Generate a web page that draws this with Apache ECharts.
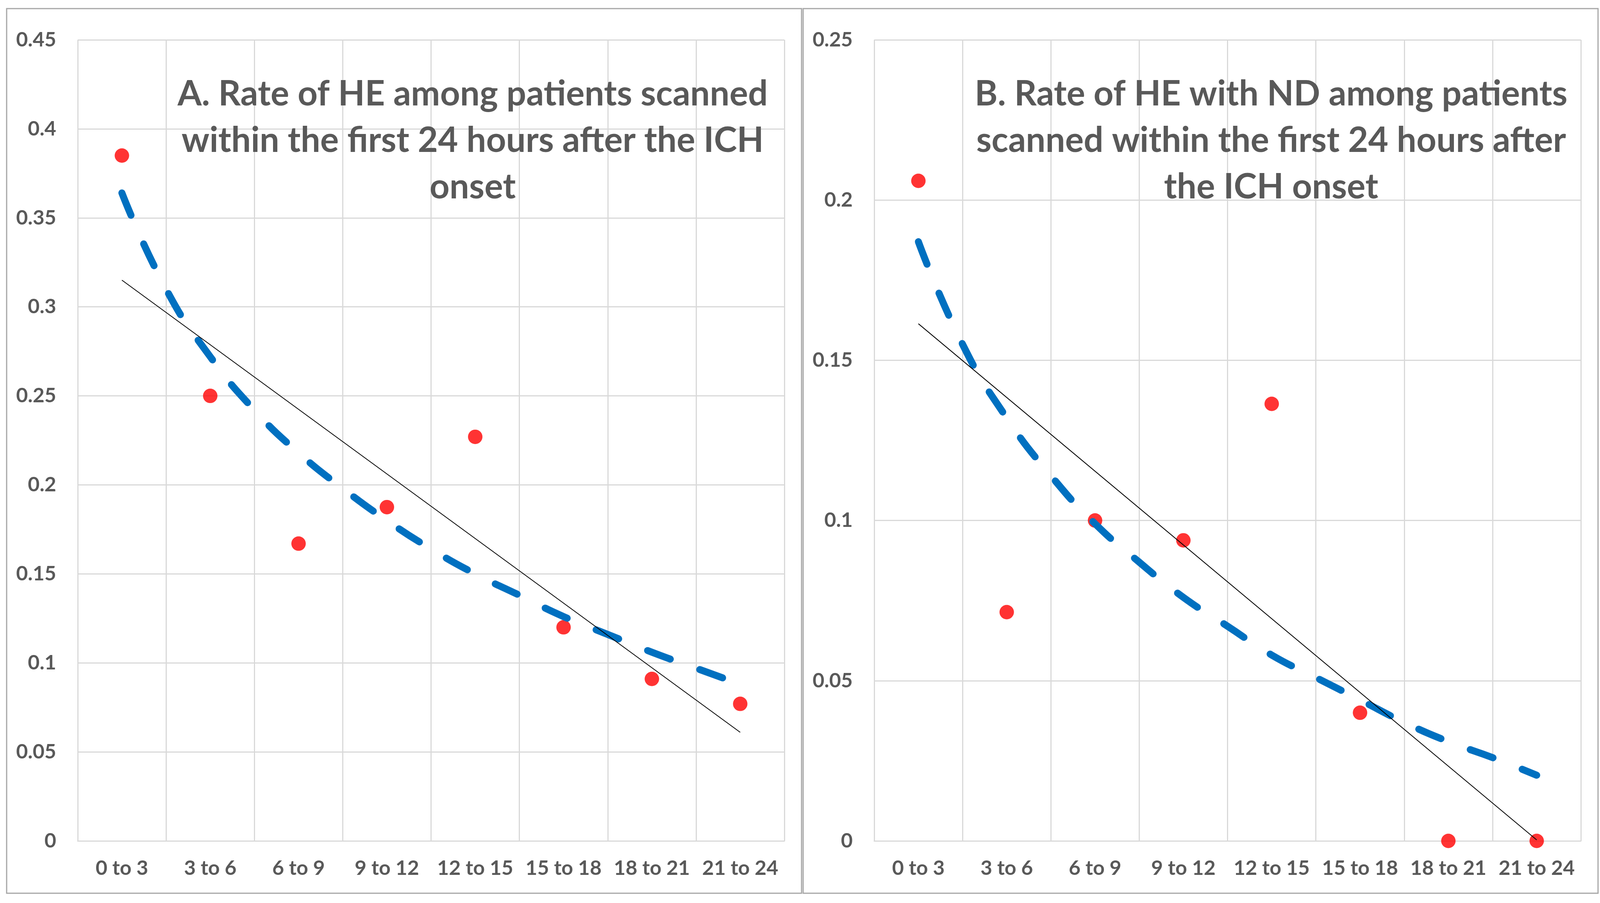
<!DOCTYPE html>
<html>
<head>
<meta charset="utf-8">
<script src="https://cdn.jsdelivr.net/npm/echarts@6/dist/echarts.min.js"></script>
<style>
html,body{margin:0;padding:0;background:#fff;}
#chart{width:4102px;height:2312px;}
</style>
</head>
<body>
<div id="chart"></div>
<script>
// ---- data ----
const categories = ['0 to 3', '3 to 6', '6 to 9', '9 to 12', '12 to 15', '15 to 18', '18 to 21', '21 to 24'];
const rateA = [0.385, 0.25, 0.167, 0.1875, 0.227, 0.12, 0.091, 0.077];
const rateB = [0.206, 0.0714, 0.1, 0.0938, 0.1364, 0.04, 0, 0];

// dashed blue (logarithmic) trend curve, read at category centres and boundaries
const trendX = [1, 1.5, 2, 2.5, 3, 3.5, 4, 4.5, 5, 5.5, 6, 6.5, 7, 7.5, 8];
const curveA = [0.364, 0.310, 0.272, 0.242, 0.218, 0.198, 0.180, 0.164, 0.150, 0.138, 0.126, 0.116, 0.106, 0.097, 0.088];
const curveB = [0.187, 0.155, 0.132, 0.114, 0.099, 0.087, 0.076, 0.067, 0.058, 0.051, 0.044, 0.037, 0.031, 0.026, 0.0205];

// thin black straight trend line, endpoints
const lineX = [1, 8];
const lineA = [0.315, 0.061];
const lineB = [0.1614, 0.0003];

const titleA = 'A. Rate of HE among patients scanned\nwithin the first 24 hours after the ICH\nonset';
const titleB = 'B. Rate of HE with ND among patients\nscanned within the first 24 hours after\nthe ICH onset';

const yTicksA = {min: 0, max: 0.45, interval: 0.05};
const yTicksB = {min: 0, max: 0.25, interval: 0.05};

// ---- styling ----
const FONT = 'Lato';
const TXT = '#595959';
const GRID = '#D9D9D9';

function pairs(xs, ys) { return xs.map((x, i) => [x, ys[i]]); }

const grids = [
  {left: 199, top: 102, width: 1809, height: 2051},
  {left: 2238, top: 102, width: 1809, height: 2051}
];

function catAxis(gi) {
  return {
    type: 'category', gridIndex: gi, data: categories, boundaryGap: true,
    axisLine: {show: true, lineStyle: {color: GRID, width: 3}},
    axisTick: {show: false},
    axisLabel: {color: TXT, fontFamily: FONT, fontWeight: 'bold', fontSize: 52, margin: 44, interval: 0},
    splitLine: {show: true, interval: 0, lineStyle: {color: GRID, width: 3}}
  };
}
function valXAxis(gi) {
  return {type: 'value', gridIndex: gi, min: 0.5, max: 8.5, show: false};
}
function yAxis(gi, t) {
  return {
    type: 'value', gridIndex: gi, min: t.min, max: t.max, interval: t.interval,
    axisLine: {show: false}, axisTick: {show: false},
    axisLabel: {color: TXT, fontFamily: FONT, fontWeight: 'bold', fontSize: 52, margin: 55},
    splitLine: {show: true, lineStyle: {color: GRID, width: 3}}
  };
}

function seriesFor(gi, rate, curve, line) {
  return [
    {
      type: 'scatter', xAxisIndex: gi * 2, yAxisIndex: gi, data: rate,
      symbol: 'circle', symbolSize: 37, itemStyle: {color: '#FF0000'}, z: 2, silent: true
    },
    {
      type: 'line', xAxisIndex: gi * 2 + 1, yAxisIndex: gi, data: pairs(trendX, curve),
      smooth: true, showSymbol: false, symbol: 'none', z: 3, silent: true,
      lineStyle: {color: '#0070C0', width: 18, type: [62, 80], cap: 'round', join: 'round'}
    },
    {
      type: 'line', xAxisIndex: gi * 2 + 1, yAxisIndex: gi, data: pairs(lineX, line),
      showSymbol: false, symbol: 'none', z: 4, silent: true,
      lineStyle: {color: '#000000', width: 2}
    }
  ];
}

const option = {
  animation: false,
  backgroundColor: '#ffffff',
  grid: grids,
  xAxis: [catAxis(0), valXAxis(0), catAxis(1), valXAxis(1)],
  yAxis: [yAxis(0, yTicksA), yAxis(1, yTicksB)],
  series: [].concat(seriesFor(0, rateA, curveA, lineA), seriesFor(1, rateB, curveB, lineB)),
  graphic: [
    {type: 'rect', shape: {x: 17, y: 22, width: 2035, height: 2265}, style: {fill: 'none', stroke: '#A6A6A6', lineWidth: 3}, silent: true, z: 0},
    {type: 'rect', shape: {x: 2056, y: 22, width: 2035, height: 2265}, style: {fill: 'none', stroke: '#A6A6A6', lineWidth: 3}, silent: true, z: 0},
    {type: 'text', x: 1210, y: 360, z: 10, silent: true,
      style: {text: titleA, fill: TXT, fontFamily: FONT, fontWeight: 'bold', fontSize: 89, lineHeight: 119, align: 'center', verticalAlign: 'middle'}},
    {type: 'text', x: 3254, y: 360, z: 10, silent: true,
      style: {text: titleB, fill: TXT, fontFamily: FONT, fontWeight: 'bold', fontSize: 89, lineHeight: 119, align: 'center', verticalAlign: 'middle'}}
  ]
};

const chart = echarts.init(document.getElementById('chart'), null, {renderer: 'canvas', width: 4102, height: 2312});
chart.setOption(option);
</script>
</body>
</html>
